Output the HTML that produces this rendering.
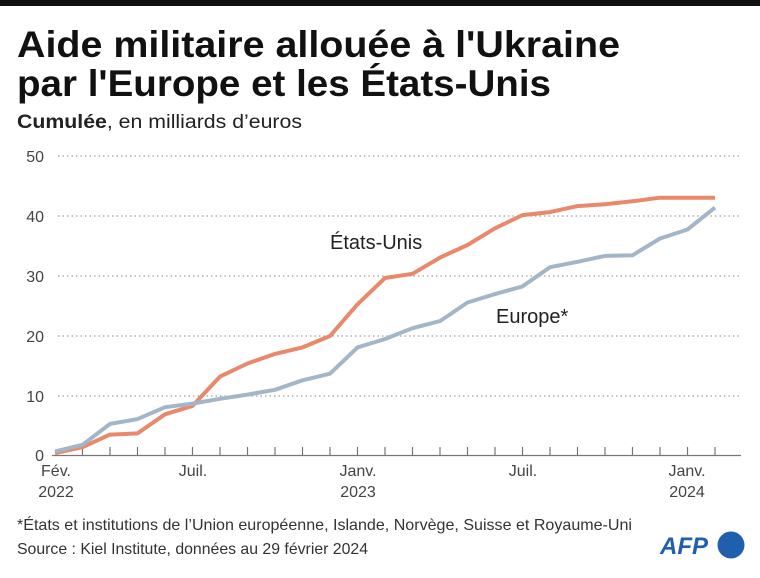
<!DOCTYPE html>
<html><head><meta charset="utf-8"><style>
body{margin:0;background:#fff;width:760px;height:573px;overflow:hidden;font-family:"Liberation Sans",sans-serif;}
</style></head><body>
<svg width="760" height="573" xmlns="http://www.w3.org/2000/svg" font-family="Liberation Sans, sans-serif">
<rect x="0" y="0" width="760" height="6" fill="#111"/>
<text x="17" y="57" font-size="37" font-weight="bold" fill="#111" textLength="603" lengthAdjust="spacingAndGlyphs">Aide militaire allouée à l'Ukraine</text>
<text x="17" y="96" font-size="37" font-weight="bold" fill="#111" textLength="534" lengthAdjust="spacingAndGlyphs">par l'Europe et les États-Unis</text>
<text x="17" y="128" font-size="19" fill="#222" textLength="285" lengthAdjust="spacingAndGlyphs"><tspan font-weight="bold">Cumulée</tspan>, en milliards d’euros</text>
<g stroke="#888" stroke-width="1" stroke-dasharray="1.5,3">
<line x1="58" y1="156" x2="740" y2="156"/><line x1="58" y1="216" x2="740" y2="216"/><line x1="58" y1="276" x2="740" y2="276"/><line x1="58" y1="336" x2="740" y2="336"/><line x1="58" y1="396" x2="740" y2="396"/>
</g>
<g font-size="16" fill="#444" text-anchor="end">
<text x="44" y="162">50</text><text x="44" y="222">40</text><text x="44" y="282">30</text><text x="44" y="342">20</text><text x="44" y="402">10</text><text x="44" y="461">0</text>
</g>
<line x1="52" y1="455.5" x2="741" y2="455.5" stroke="#777" stroke-width="1.2"/>
<g stroke="#777" stroke-width="1.2" id="ticks"></g>
<polyline fill="none" stroke="#e8896b" stroke-width="4" stroke-linejoin="round" points="55,453.2 82.5,447.2 110,434.6 137.5,433.4 165,414.3 192.5,405.9 220,376.6 247.5,363.5 275,353.9 302.5,347.4 330,336 357.5,304.3 385,278 412.5,273.8 440,257.6 467.5,245 495,228.3 522.5,215.1 550,212.1 577.5,206.1 605,204.3 632.5,201.3 660,197.7 687.5,197.7 715,197.7"/>
<polyline fill="none" stroke="#a3b6c8" stroke-width="4" stroke-linejoin="round" points="55,451.4 82.5,444.8 110,423.9 137.5,419.1 165,407.2 192.5,403.6 220,398.8 247.5,394.6 275,389.8 302.5,380.3 330,373.7 357.5,347.4 385,339 412.5,328.2 440,321.1 467.5,302.5 495,294.1 522.5,286.4 550,267.2 577.5,261.8 605,255.9 632.5,255.3 660,238.5 687.5,229.5 715,207.6"/>
<text x="330" y="249" font-size="20" fill="#222">États-Unis</text>
<text x="496" y="323" font-size="20" fill="#222">Europe*</text>
<g font-size="16" fill="#444" text-anchor="middle">
<text x="56" y="476">Fév.</text><text x="56" y="497">2022</text>
<text x="193" y="476">Juil.</text>
<text x="358" y="476">Janv.</text><text x="358" y="497">2023</text>
<text x="523" y="476">Juil.</text>
<text x="687" y="476">Janv.</text><text x="687" y="497">2024</text>
</g>
<text x="17" y="530" font-size="16" fill="#333" textLength="615" lengthAdjust="spacingAndGlyphs">*États et institutions de l’Union européenne, Islande, Norvège, Suisse et Royaume-Uni</text>
<text x="17" y="554" font-size="16" fill="#333" textLength="351" lengthAdjust="spacingAndGlyphs">Source : Kiel Institute, données au 29 février 2024</text>
<text x="660" y="554" font-size="24" font-weight="bold" font-style="italic" fill="#1f5fae">AFP</text>
<circle cx="731" cy="545" r="13.5" fill="#1f5fae"/>
</svg>
<script>
var g=document.getElementById('ticks'),s='';
for(var i=1;i<25;i++){var x=55+27.5*i;s+='<line x1="'+x+'" y1="447" x2="'+x+'" y2="455"/>';}
g.innerHTML=s;
</script>
</body></html>
